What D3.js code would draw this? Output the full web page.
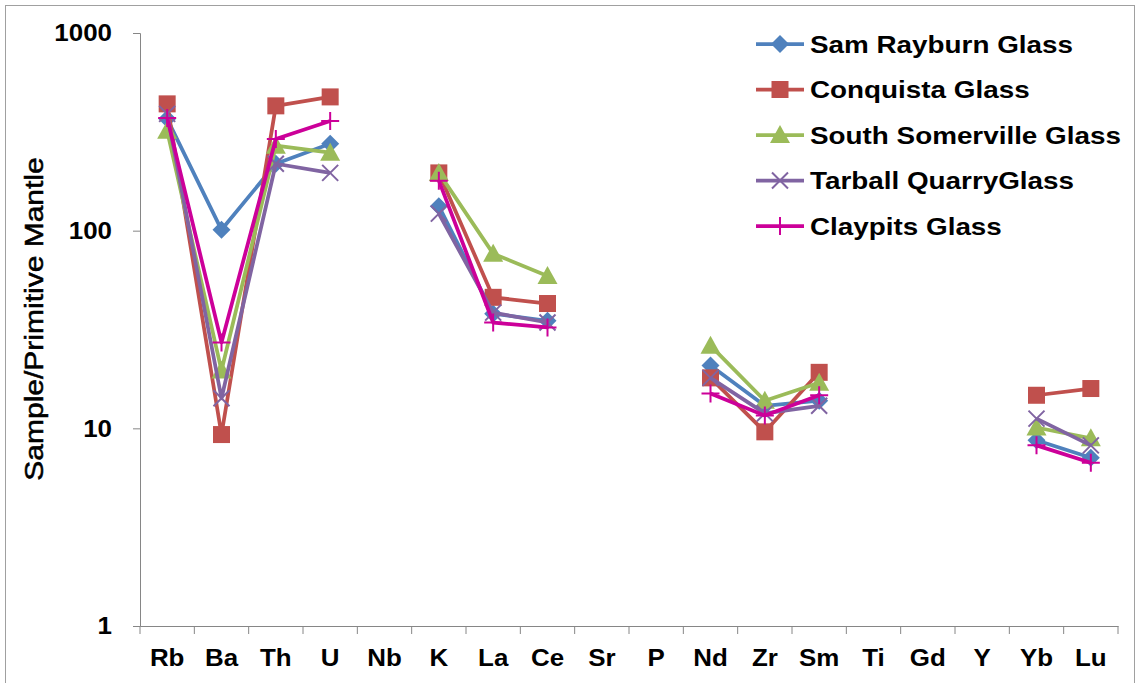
<!DOCTYPE html>
<html>
<head>
<meta charset="utf-8">
<script src="https://cdn.jsdelivr.net/npm/d3@7"></script>
<style>
  body { margin: 0; background: #fff; }
  svg text { font-family: "Liberation Sans", Arial, sans-serif; }
</style>
</head>
<body>
<div id="chart"></div>
<script>
const width = 1139, height = 683;

// element categories
const elements = ["Rb","Ba","Th","U","Nb","K","La","Ce","Sr","P","Nd","Zr","Sm","Ti","Gd","Y","Yb","Lu"];

// normalised values (null = not measured)
const samRayburn  = [368, 101, 218, 275, null, 133, 38, 35, null, null, 20.8, 13, 13.8, null, null, null, 8.7, 7.1];
const conquista   = [438, 9.3, 428, 475, null, 196, 46, 42.8, null, null, 18, 9.6, 19.2, null, null, null, 14.7, 15.9];
const southSomer  = [320, 19.6, 269, 248, null, 196, 76.5, 59, null, null, 26.2, 13.8, 17, null, null, null, 10.1, 8.9];
const tarball     = [390, 14.2, 218, 196, null, 122, 38.5, 34.3, null, null, 18, 11.9, 13, null, null, null, 11.2, 8.2];
const claypits    = [372, 27.2, 291, 359, null, 179, 34.3, 32.4, null, null, 15, 11.6, 14.7, null, null, null, 8.2, 6.7];

const yTicks = [1, 10, 100, 1000];

const series = [
  { name: "Sam Rayburn Glass", values: samRayburn, color: "#4F81BD", marker: "diamond" },
  { name: "Conquista Glass", values: conquista, color: "#C0504D", marker: "square" },
  { name: "South Somerville Glass", values: southSomer, color: "#9BBB59", marker: "triangle" },
  { name: "Tarball QuarryGlass", values: tarball, color: "#8064A2", marker: "x" },
  { name: "Claypits Glass", values: claypits, color: "#CC0099", marker: "plus" }
];

const margin = { left: 140, right: 21, top: 33, bottom: 57 };

const svg = d3.select("#chart").append("svg")
  .attr("width", width)
  .attr("height", height);

// outer frame
svg.append("rect")
  .attr("x", 5.5).attr("y", 5.5)
  .attr("width", width - 10).attr("height", height - 4)
  .attr("fill", "none").attr("stroke", "#a0a0a0").attr("stroke-width", 1);

const x = d3.scaleBand()
  .domain(elements)
  .range([margin.left, width - margin.right]);

const y = d3.scaleLog()
  .domain([1, 1000])
  .range([height - margin.bottom, margin.top]);

const axisColor = "#868686";

// y axis
const yAxis = svg.append("g")
  .attr("transform", `translate(${margin.left},0)`)
  .call(d3.axisLeft(y).tickValues(yTicks).tickFormat(d3.format("d")).tickSize(7));
yAxis.select(".domain").attr("stroke", axisColor);
yAxis.selectAll(".tick line").attr("stroke", axisColor);
yAxis.selectAll(".tick text")
  .attr("x", 0)
  .attr("transform", "translate(-28,0) scale(1.08,1)")
  .attr("font-size", 24).attr("font-weight", "bold").attr("fill", "#000");

// x axis
const xAxis = svg.append("g")
  .attr("transform", `translate(0,${height - margin.bottom})`)
  .call(d3.axisBottom(x).tickSize(0).tickPadding(23));
xAxis.select(".domain").attr("stroke", axisColor);
xAxis.selectAll(".tick text")
  .attr("transform", "scale(1.08,1)")
  .attr("font-size", 24).attr("font-weight", "bold").attr("fill", "#000");
// tick marks at category boundaries
xAxis.selectAll(".bound")
  .data(elements.concat([null]))
  .enter().append("line")
  .attr("x1", (d, i) => margin.left + i * x.bandwidth())
  .attr("x2", (d, i) => margin.left + i * x.bandwidth())
  .attr("y1", 0).attr("y2", 8)
  .attr("stroke", axisColor);

// y axis title
svg.append("text")
  .attr("transform", "translate(43,319) rotate(-90) scale(1.2,1)")
  .attr("text-anchor", "middle")
  .attr("font-size", 25)
  .attr("fill", "#000")
  .attr("stroke", "#000")
  .attr("stroke-width", 0.5)
  .text("Sample/Primitive Mantle");

const cx = i => x(elements[i]) + x.bandwidth() / 2;

const line = d3.line()
  .defined(d => d != null)
  .x((d, i) => cx(i))
  .y(d => y(d));

function drawMarker(g, type, color, px, py) {
  if (type === "diamond") {
    g.append("path").attr("d", `M${px},${py - 9}L${px + 9},${py}L${px},${py + 9}L${px - 9},${py}Z`)
      .attr("fill", color);
  } else if (type === "square") {
    g.append("rect").attr("x", px - 8.5).attr("y", py - 8.5).attr("width", 17).attr("height", 17)
      .attr("fill", color);
  } else if (type === "triangle") {
    g.append("path").attr("d", `M${px},${py - 10}L${px + 10},${py + 8}L${px - 10},${py + 8}Z`)
      .attr("fill", color);
  } else if (type === "x") {
    g.append("path").attr("d", `M${px - 8},${py - 8}L${px + 8},${py + 8}M${px + 8},${py - 8}L${px - 8},${py + 8}`)
      .attr("stroke", color).attr("stroke-width", 2).attr("fill", "none");
  } else if (type === "plus") {
    g.append("path").attr("d", `M${px - 9},${py}L${px + 9},${py}M${px},${py - 9}L${px},${py + 9}`)
      .attr("stroke", color).attr("stroke-width", 2).attr("fill", "none");
  }
}

const plot = svg.append("g");
series.forEach(s => {
  const g = plot.append("g");
  g.append("path")
    .datum(s.values)
    .attr("d", line)
    .attr("fill", "none")
    .attr("stroke", s.color)
    .attr("stroke-width", 3.75)
    .attr("stroke-linejoin", "round");
  s.values.forEach((v, i) => {
    if (v != null) drawMarker(g, s.marker, s.color, cx(i), y(v));
  });
});

// legend
const legend = svg.append("g");
series.forEach((s, i) => {
  const ly = 44 + i * 45.5;
  const g = legend.append("g");
  g.append("line")
    .attr("x1", 756).attr("x2", 804).attr("y1", ly).attr("y2", ly)
    .attr("stroke", s.color).attr("stroke-width", 3.75);
  drawMarker(g, s.marker, s.color, 780, ly);
  g.append("text")
    .attr("transform", `translate(810,${ly + 8.5}) scale(1.16,1)`)
    .attr("font-size", 24).attr("font-weight", "bold").attr("fill", "#000")
    .text(s.name);
});
</script>
</body>
</html>
